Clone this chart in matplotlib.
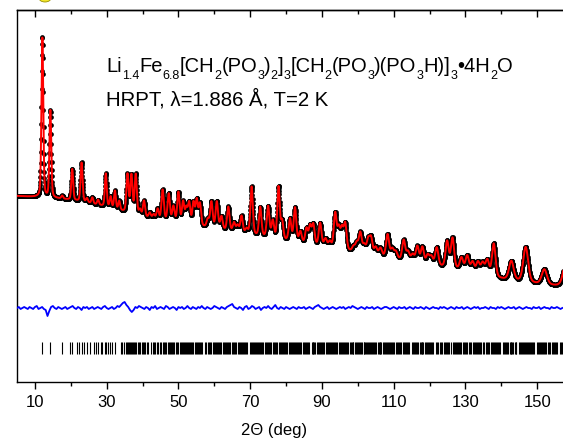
import numpy as np
import matplotlib
matplotlib.use("Agg")
import matplotlib.pyplot as plt
from matplotlib.patches import Ellipse

plt.rcParams['font.family'] = ['Liberation Sans', 'DejaVu Sans']

# ---------------- data ----------------
# background (intensity, arbitrary units) at nodes
bg_x = [5, 10, 15, 20, 25, 30, 35, 40, 45, 50, 55, 60, 70, 80, 90, 100, 110, 120, 130, 140, 150, 157]
bg_y = [186, 185, 184, 182, 179, 175, 170, 165, 162, 159, 156, 153, 147, 141, 135, 129, 123, 117, 111, 103, 98, 95]

# Bragg peaks: position (deg), height above background, FWHM (deg)
peak_pos = [12.07, 14.3, 17.6, 20.4, 23.0, 24.5, 26.0, 27.6, 29.75, 31.1, 32.3, 33.5,
            35.8, 36.9, 38.1, 39.3, 40.4, 42.0, 43.1, 44.2, 45.6, 47.3, 48.6, 50.0,
            51.3, 52.2, 53.0, 54.2, 55.1, 56.0, 58.2, 59.2, 60.7, 62.0, 63.9, 65.5,
            66.5, 67.6, 69.0, 70.4, 72.8, 75.0, 76.3, 77.9, 78.9, 81.1, 82.5, 84.0,
            85.7, 86.7, 87.6, 89.5, 91.0, 92.2, 93.7, 94.7, 95.6, 96.5, 98.8, 99.7,
            100.7, 101.8, 102.9, 103.7, 105.0, 106.3, 108.3, 109.6, 110.6, 112.8, 114.0, 115.3,
            116.6, 118.0, 119.5, 120.5, 122.0, 124.9, 126.4, 128.9, 130.5, 132.0, 133.5, 134.8,
            136.1, 137.9, 142.8, 146.8, 152.0, 158.5]
peak_height = [160, 87, 3, 31, 39, 4, 6, 5, 33, 11, 18, 9,
               38, 38, 40, 6, 16, 5, 4, 10, 30, 27, 15, 30,
               21, 15, 21, 22, 25, 22, 8, 26, 27, 13, 24, 9,
               7, 17, 5, 48, 29, 31, 17, 52, 18, 22, 34, 11,
               15, 18, 20, 23, 8, 6, 35, 20, 20, 26, 5, 9,
               20, 8, 14, 16, 8, 8, 23, 9, 7, 20, 9, 7,
               16, 16, 9, 8, 18, 26, 30, 12, 15, 10, 11, 11,
               15, 33, 19, 35, 15, 38]
peak_fwhm = [0.6, 0.6, 0.6, 0.6, 0.65, 0.6, 0.6, 0.6, 0.6, 0.6, 0.6, 0.6,
             0.7, 0.7, 0.7, 0.7, 0.7, 0.7, 0.7, 0.7, 0.75, 0.75, 0.75, 0.75,
             0.75, 0.75, 0.75, 0.75, 0.75, 0.75, 0.8, 0.8, 0.8, 0.8, 0.8, 0.8,
             0.8, 0.8, 0.8, 0.8, 0.8, 0.85, 0.8, 0.8, 0.8, 0.85, 0.85, 0.85,
             0.85, 0.85, 0.85, 0.9, 0.9, 0.9, 0.9, 0.9, 0.9, 0.9, 0.9, 0.9,
             0.95, 0.95, 0.95, 0.95, 0.95, 1.0, 1.0, 1.0, 1.0, 1.0, 1.0, 1.0,
             1.0, 1.0, 1.0, 1.0, 1.05, 1.05, 1.05, 1.1, 1.1, 1.1, 1.1, 1.1,
             1.15, 1.15, 1.5, 1.6, 1.7, 2.2]

# difference curve (obs - calc), one value every 0.5 deg from 5 to 157
diff_start, diff_step = 5.0, 0.5
diff_vals = [
    0, 1, -1, 0, 1, 0, -1, 1, 0, -1, 1, 2, -1, 0, 1, -1, -2, -8, -3, 1,
    2, 0, -1, 1, 0, -1, 0, 1, -1, 0, 1, 2, 0, -1, 1, 0, -2, 1, 0, 1,
    -1, 0, 1, -1, 0, 1, 0, -1, 1, 2, 0, -1, 0, 1, -1, 0, 2, 1, 3, 5,
    6, 3, 1, -2, -4, -2, 1, 0, 2, 1, 0, -1, 1, 0, -2, 1, 0, 2, -1, 0,
    1, 0, -1, 2, 1, -1, 0, 1, 0, -2, 1, 0, 1, -1, 0, 2, 0, -1, 1, 0,
    -1, 1, 0, 2, 0, -1, 1, 0, -1, 0, 2, 1, 0, -1, 1, 0, -1, 1, 2, 3,
    4, 1, 0, -1, 1, 0, -2, 1, 2, -1, 0, 2, 1, -1, 0, 1, -2, 0, 1, 0,
    2, 0, -1, 1, 3, 0, -1, 1, 0, -1, 1, 0, -1, 0, 1, 0, -1, 1, 0, 0,
    1, -1, 0, 1, 0, -1, 1, 2, 3, 1, 0, -1, 0, 1, -1, 0, 1, 0, -1, 0,
    1, 0, 1, -1, 0, 1, 0, 2, 1, 0, -1, 0, 1, 0, -1, 1, 0, 0, 1, -1,
    0, 1, 0, -1, 0, 1, 1, 0, -1, 0, 1, 0, -1, 1, 0, 0, 1, -1, 0, 1,
    0, -1, 1, 0, 0, 1, 0, -1, 1, 0, -1, 0, 1, 0, 0, -1, 1, 0, 1, 0,
    -1, 0, 1, 0, -1, 1, 0, 0, 1, -1, 0, 1, 0, -1, 0, 1, 0, 1, -1, 0,
    0, 1, 0, -1, 1, 0, 0, -1, 1, 0, 1, 0, -1, 0, 1, 0, 0, 1, -1, 0,
    1, 0, -1, 0, 1, 0, 0, -1, 1, 0, 0, 1, -1, 0, 1, 0, 0, -1, 1, 0,
    0, 1, 0, -1, 0]
diff_offset = 74

# Bragg reflection positions (deg)
bragg_pos = [
    12.0, 14.3, 17.6, 19.8, 20.4, 21.6, 22.4, 23.0, 23.6, 24.5, 25.3, 26.5, 27.1, 27.7,
    28.3, 28.8, 29.4, 29.8, 30.4, 31.0, 31.6, 32.3,
    34.1, 34.4, 34.7, 35.4, 35.7, 35.9, 36.2, 36.5, 36.8, 37.0, 37.4, 37.7, 38.0, 38.2,
    38.6, 39.0, 39.3, 39.8, 40.2, 40.4, 40.8, 41.2, 41.5, 42.4, 42.8, 43.1, 43.5, 43.9,
    44.2, 44.9, 45.2, 45.6, 45.9, 46.3, 46.6, 47.0, 47.3, 47.6, 48.0, 48.3, 48.6, 48.9,
    49.3, 49.6, 50.0, 50.3, 50.6, 50.9, 51.3, 51.5, 51.8, 52.2, 52.5, 52.8, 53.0, 53.3,
    53.6, 53.9, 54.2, 54.5, 54.8, 55.1, 55.4, 55.7, 56.0, 56.3, 56.6, 57.3, 57.7, 58.2,
    58.5, 58.9, 59.2, 59.5, 59.8, 60.1, 60.4, 60.7, 61.0, 61.3, 61.6, 62.0, 62.3, 62.6,
    62.9, 63.2, 63.5, 63.9, 64.2, 64.5, 64.8, 65.1, 65.5, 65.8, 66.1, 66.5, 66.8, 67.1,
    67.4, 67.6, 67.9, 68.2, 68.5, 68.8, 69.0, 69.9, 70.2, 70.4, 70.7, 71.0, 71.3, 71.6,
    71.9, 72.2, 72.5, 72.8, 73.1, 73.4, 73.7, 74.0, 74.3, 74.6, 75.0, 75.3, 75.6, 75.9,
    76.3, 76.6, 76.9, 77.2, 77.5, 77.9, 78.2, 78.5, 78.9, 79.2, 79.5, 79.8, 80.1, 80.4,
    80.7, 81.1, 81.4, 81.7, 82.0, 82.2, 82.5, 82.8, 83.1, 83.4, 83.7, 84.0, 84.3, 84.6,
    84.9, 85.2, 85.5, 85.7, 86.0, 86.3, 87.1, 87.4, 87.6, 87.9, 88.2, 88.5, 88.8, 89.1,
    89.5, 89.8, 90.1, 90.4, 90.7, 91.0, 91.3, 91.6, 91.9, 92.2, 92.5, 92.8, 93.1, 93.4,
    93.7, 94.0, 94.3, 94.7, 95.0, 95.3, 95.6, 95.9, 96.2, 96.5, 96.8, 97.1, 97.4, 97.7,
    98.0, 98.3, 98.6, 98.8, 99.1, 99.4, 99.7, 100.0, 100.3, 100.7, 101.0, 101.3, 101.6, 101.8,
    102.1, 102.4, 102.7, 102.9, 103.2, 103.5, 103.7, 104.0, 104.3, 104.6, 104.9, 105.2, 105.5, 105.8,
    106.1, 106.3, 106.6, 106.9, 107.2, 107.5, 107.8, 108.1, 108.3, 108.6, 108.9, 109.2, 109.6, 109.9,
    110.2, 110.6, 110.9, 111.2, 111.5, 111.8, 112.1, 112.5, 112.8, 113.1, 113.4, 113.7, 114.0, 114.3,
    115.1, 115.3, 115.6, 115.9, 116.3, 116.6, 116.9, 117.2, 117.5, 117.8, 118.0, 118.3, 118.6, 118.9,
    119.2, 119.5, 119.8, 120.1, 120.5, 120.8, 121.1, 121.9, 122.0, 122.3, 123.0, 123.3, 123.6, 123.9,
    124.2, 124.6, 124.9, 125.2, 125.5, 126.1, 126.4, 126.7, 127.0, 127.3, 127.6, 127.9, 128.2, 128.6,
    128.9, 129.2, 129.5, 129.8, 130.1, 130.5, 131.0, 131.3, 131.6, 132.0, 132.3, 132.6, 132.9, 133.2,
    133.5, 133.8, 134.1, 134.4, 134.8, 135.1, 135.8, 136.1, 136.4, 136.7, 137.0, 137.3, 137.6, 137.9,
    138.2, 138.5, 138.8, 139.1, 139.4, 139.7, 140.5, 140.8, 141.1, 141.4, 141.7, 142.0, 142.3, 142.6,
    142.8, 143.1, 143.4, 143.7, 144.0, 144.2, 144.8, 145.1, 145.4, 145.7, 146.0, 146.3, 146.5, 146.8,
    147.1, 147.4, 147.7, 148.0, 148.3, 148.6, 148.9, 149.2, 149.9, 150.2, 150.5, 150.8, 151.1, 151.4,
    151.7, 152.0, 152.3, 152.6, 152.9, 153.2, 153.5, 154.1, 154.4, 154.7, 155.0, 155.3, 155.6, 156.3,
    156.6, 156.9]

major_ticks = [10, 30, 50, 70, 90, 110, 130, 150]
minor_ticks = [20, 40, 60, 80, 100, 120, 140]
# formula: (text, is_subscript)
title1_parts = [('Li', False), ('1.4', True), ('Fe', False), ('6.8', True), ('[CH', False), ('2', True),
                ('(PO', False), ('3', True), (')', False), ('2', True), (']', False), ('3', True),
                ('[CH', False), ('2', True), ('(PO', False), ('3', True), (')(PO', False), ('3', True),
                ('H)]', False), ('3', True), ('•4H', False), ('2', True), ('O', False)]
title2 = 'HRPT, λ=1.886 Å, T=2 K'
xlabel = '2Θ (deg)'

# ---------------- profile ----------------
x = np.arange(5.0, 157.26, 0.05)
calc = np.interp(x, bg_x, bg_y)
for p, h, w in zip(peak_pos, peak_height, peak_fwhm):
    d = (x - p) / w
    calc = calc + h * (0.7 * np.exp(-4 * np.log(2) * d ** 2) + 0.3 / (1 + 4 * d ** 2))
obs = calc

xd = diff_start + diff_step * np.arange(len(diff_vals))
yd = diff_offset + np.array(diff_vals, dtype=float)

# ---------------- figure ----------------
W, H = 563, 439
fig = plt.figure(figsize=(W / 100, H / 100), dpi=100)
ax = fig.add_axes([17 / W, (H - 383) / H, 1 - 17 / W, (383 - 11) / H])

ax.plot(x, obs, 'o', color='black', ms=3.4, mew=0, zorder=2)
ax.plot(x, calc, '-', color='#ff0000', lw=1.4, zorder=3)
ax.plot(xd, yd, '-', color='#0000ff', lw=1.3, zorder=3)
ax.vlines(bragg_pos, 28, 40, color='black', lw=0.8, zorder=3)

ax.spines['right'].set_visible(False)
for s in ['left', 'bottom', 'top']:
    ax.spines[s].set_linewidth(1.0)

ax.set_yticks([])
ax.set_xticks(major_ticks)
ax.set_xticks(minor_ticks, minor=True)
ax.tick_params(axis='x', which='major', direction='out', length=5, width=1.0,
               labelsize=12, pad=4)
ax.tick_params(axis='x', which='minor', direction='out', length=3, width=1.0)

sec = ax.secondary_xaxis('top')
sec.set_xticks(major_ticks)
sec.set_xticks(minor_ticks, minor=True)
sec.tick_params(axis='x', which='major', direction='in', length=5, width=1.0, labeltop=False)
sec.tick_params(axis='x', which='minor', direction='in', length=3, width=1.0)
sec.spines['top'].set_linewidth(1.0)

ax.set_xlim(5, 157.2)
ax.set_ylim(0, 372)

fig.text(274 / W, 1 - 431 / H, xlabel, ha='center', va='center', fontsize=12)

# formula line, laid out piece by piece
renderer = fig.canvas.get_renderer()
xp = 106.0
for txt, sub in title1_parts:
    if sub:
        t = fig.text(xp / W, 1 - 79 / H, txt, ha='left', va='baseline', fontsize=9)
    else:
        t = fig.text(xp / W, 1 - 72 / H, txt, ha='left', va='baseline', fontsize=14.5)
    xp += t.get_window_extent(renderer).width
fig.text(106 / W, 1 - 105 / H, title2, ha='left', va='baseline', fontsize=14.7)

fig.add_artist(Ellipse((45 / W, 1 + 1 / H), 12 / W, 8 / H, transform=fig.transFigure,
                       facecolor='#f2e62a', edgecolor='#9a9000', lw=0.6, clip_on=False))

fig.savefig('out.png', dpi=100)
